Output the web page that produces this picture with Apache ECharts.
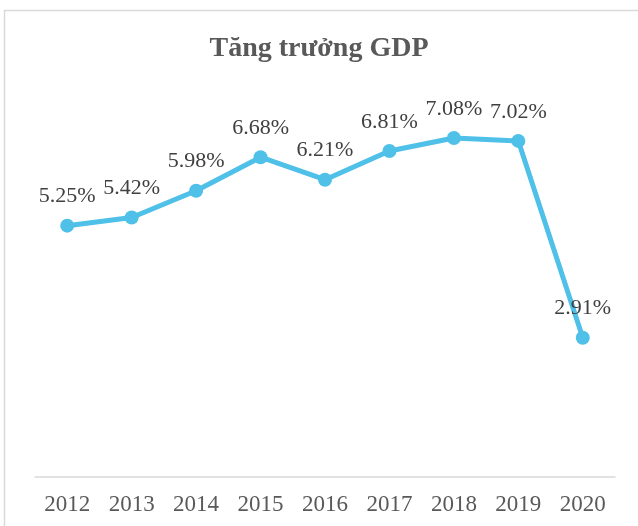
<!DOCTYPE html>
<html>
<head>
<meta charset="utf-8">
<script src="https://cdn.jsdelivr.net/npm/echarts@6/dist/echarts.min.js"></script>
<style>
  html, body { margin: 0; padding: 0; background: #fff; }
  #chart { width: 638px; height: 526px; }
</style>
</head>
<body>
<div id="chart"></div>
<script>
const years = ['2012', '2013', '2014', '2015', '2016', '2017', '2018', '2019', '2020'];
const gdpGrowth = [5.25, 5.42, 5.98, 6.68, 6.21, 6.81, 7.08, 7.02, 2.91];

const chart = echarts.init(document.getElementById('chart'));
const serif = '"Liberation Serif", "DejaVu Serif", serif';

chart.setOption({
  animation: false,
  title: {
    text: 'Tăng trưởng GDP',
    left: 'center',
    top: 30,
    textStyle: { fontFamily: serif, fontSize: 28, fontWeight: 'bold', color: '#595959' }
  },
  graphic: [{
    type: 'rect',
    shape: { x: 4.5, y: 10.5, width: 640, height: 520 },
    style: { fill: 'none', stroke: '#d9d9d9', lineWidth: 1.5 },
    silent: true
  }],
  grid: { left: 35, right: 23, top: 94, bottom: 49 },
  xAxis: {
    type: 'category',
    data: years,
    boundaryGap: true,
    axisTick: { show: false },
    axisLine: { lineStyle: { color: '#d9d9d9', width: 1.5 } },
    axisLabel: { fontFamily: serif, fontSize: 23, color: '#595959', margin: 16 }
  },
  yAxis: {
    type: 'value',
    min: 0,
    max: 8,
    interval: 1,
    show: false,
    splitLine: { show: false }
  },
  series: [{
    type: 'line',
    data: gdpGrowth,
    symbol: 'circle',
    symbolSize: 14,
    lineStyle: { color: '#4FC0E8', width: 5 },
    itemStyle: { color: '#4FC0E8' },
    label: {
      show: true,
      position: 'top',
      distance: 11,
      fontFamily: serif,
      fontSize: 22,
      color: '#404040',
      formatter: p => p.value.toFixed(2) + '%'
    }
  }]
});
</script>
</body>
</html>
